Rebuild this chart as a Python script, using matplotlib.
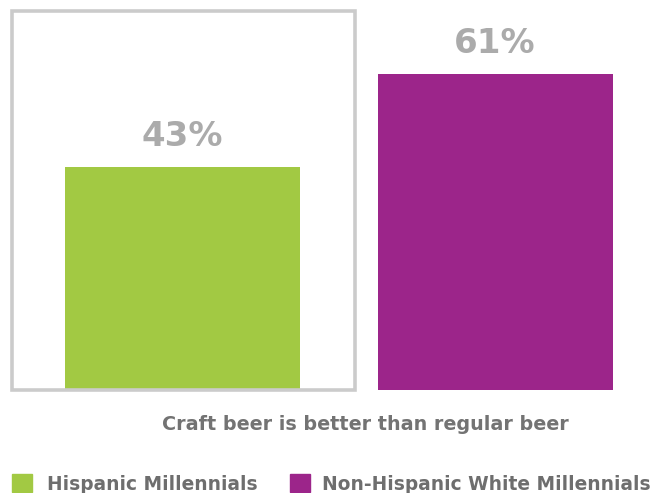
import matplotlib
matplotlib.use("Agg")
import matplotlib.pyplot as plt
from matplotlib.patches import Rectangle

groups = ["Hispanic Millennials", "Non-Hispanic White Millennials"]
values = [43, 61]
colors = ["#a2c943", "#9c258a"]
caption = "Craft beer is better than regular beer"

plt.rcParams["font.family"] = ["DejaVu Sans"]

fig = plt.figure(figsize=(6.6, 4.93), dpi=100)
H = 493.0
ax = fig.add_axes([0, 1 - 390 / H, 1, 390 / H])
ax.set_xlim(-0.584, 1.528)
ax.set_ylim(0, 75.3)
ax.axis("off")

x = list(range(len(values)))
ax.bar(x, values, width=0.752, color=colors, zorder=2)
for xi, v in zip(x, values):
    ax.annotate(f"{v}%", (xi, v), xytext=(0, 10), textcoords="offset points",
                ha="center", va="bottom", fontsize=24.5, fontweight="bold",
                color="#ababab")

# frame around the first group
fig.patches.append(Rectangle((12 / 660, 1 - 390 / H), (355 - 12) / 660, (390 - 11) / H,
                             transform=fig.transFigure, fill=False,
                             edgecolor="#cbcbcb", linewidth=2.6, zorder=1))

fig.text(365 / 660, 1 - 425 / H, caption, ha="center", va="center",
         fontsize=13.8, fontweight="bold", color="#737373")

# legend
legend_items = [(12, 47), (290, 322)]
for (sx, tx), g, c in zip(legend_items, groups, colors):
    fig.patches.append(Rectangle((sx / 660, 1 - 492 / H), 20 / 660, 18 / H,
                                 transform=fig.transFigure, color=c))
    fig.text(tx / 660, 1 - 484 / H, g, ha="left", va="center",
             fontsize=13.4, fontweight="bold", color="#6e6e6e")

fig.savefig("out.png", dpi=100)
